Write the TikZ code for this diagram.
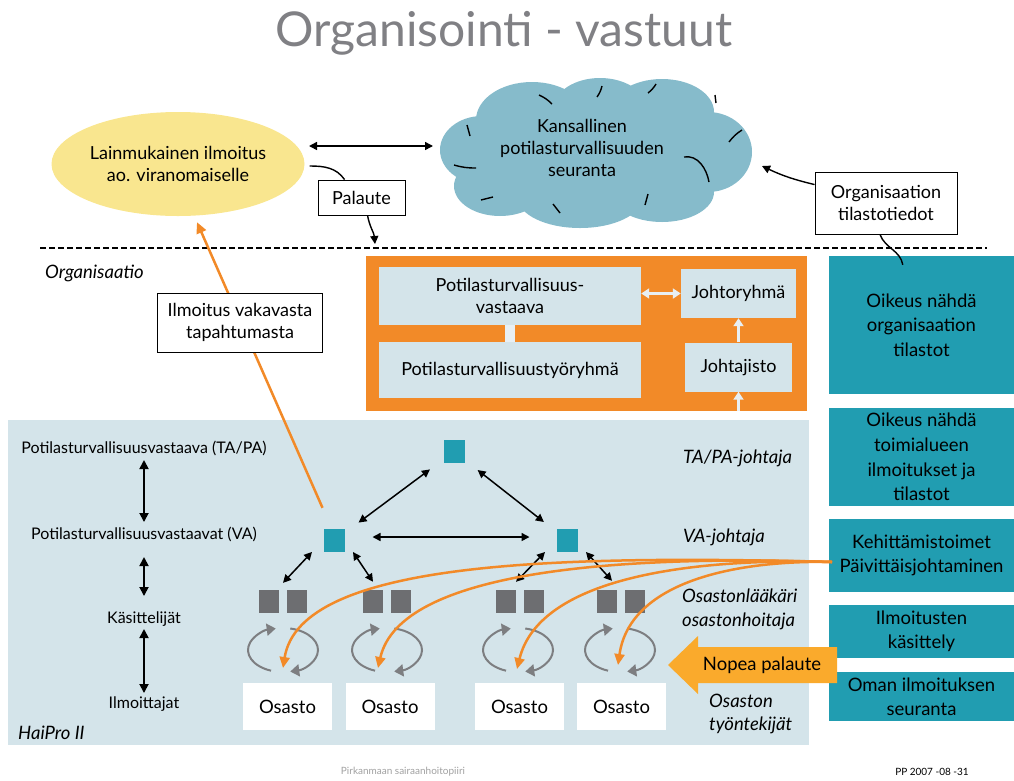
\documentclass[tikz,border=0pt]{standalone}
\usepackage{fontspec}
\setmainfont{Lato}
\usetikzlibrary{arrows.meta,shapes.geometric,calc}
\definecolor{titlegray}{RGB}{128,128,132}
\definecolor{ellY}{RGB}{249,230,143}
\definecolor{cloudB}{RGB}{134,187,203}
\definecolor{orgO}{RGB}{242,138,40}
\definecolor{paleB}{RGB}{212,228,234}
\definecolor{tealT}{RGB}{33,157,177}
\definecolor{sqG}{RGB}{109,110,113}
\definecolor{cycG}{RGB}{125,126,129}
\definecolor{nopeaO}{RGB}{250,170,44}
\definecolor{lightA}{RGB}{232,239,243}
\definecolor{footG}{RGB}{160,160,160}
\begin{document}
\begin{tikzpicture}[x=1pt,y=-1pt,
  txt/.style={font=\fontsize{18}{22}\selectfont, align=center, inner sep=0pt},
  wbox/.style={txt, draw=black, line width=0.9pt, fill=white},
  pbox/.style={txt, fill=paleB},
  tbox/.style={font=\fontsize{18.5}{24.5}\selectfont, align=center, inner sep=0pt, fill=tealT, minimum width=185},
  lbl/.style={font=\fontsize{16}{19}\selectfont, inner sep=0pt},
  itl/.style={font=\fontsize{18.5}{22}\selectfont\itshape, inner sep=0pt, align=left},
  dbl/.style={line width=1.5pt, {Triangle[length=8pt,width=8pt]}-{Triangle[length=8pt,width=8pt]}},
  dblL/.style={line width=1.8pt, {Triangle[length=9pt,width=9pt]}-{Triangle[length=9pt,width=9pt]}},
  tsq/.style={fill=tealT, minimum width=21, minimum height=23, inner sep=0pt},
  gsq/.style={fill=sqG, minimum width=20, minimum height=23, inner sep=0pt},
  cyc/.style={draw=cycG, line width=2pt, -{Triangle[length=9pt,width=12pt]}},
  fb/.style={draw=orgO, line width=2.5pt, -{Triangle[length=11pt,width=10pt]}},
  la/.style={draw=lightA, line width=3pt}
]
\useasboundingbox (0,0) rectangle (1014,780);

% title
\node[font=\fontsize{48}{54}\selectfont, text=titlegray, inner sep=0pt] (title) at (504,33) {Organisointi - vastuut};

% background panels
\fill[paleB] (8,420) rectangle (809,745);
\fill[orgO] (366,256) rectangle (807,411);

% ellipse
\node[ellipse, fill=ellY, minimum width=253, minimum height=104, inner sep=0pt, txt] (ell) at (178,164) {Lainmukainen ilmoitus\\ao. viranomaiselle};

% cloud
\begin{scope}
\fill[cloudB] (482,150) ellipse [x radius=42, y radius=34];
\fill[cloudB] (532,120) ellipse [x radius=56, y radius=38];
\fill[cloudB] (600,108) ellipse [x radius=46, y radius=30];
\fill[cloudB] (662,112) ellipse [x radius=52, y radius=33];
\fill[cloudB] (708,152) ellipse [x radius=44, y radius=40];
\fill[cloudB] (662,192) ellipse [x radius=52, y radius=30];
\fill[cloudB] (580,198) ellipse [x radius=62, y radius=30];
\fill[cloudB] (500,186) ellipse [x radius=46, y radius=30];
\fill[cloudB] (596,152) ellipse [x radius=125, y radius=58];
\end{scope}
\begin{scope}[line width=1.4pt]
\draw (539,95) to[bend left=10] (552,104);
\draw (597,97) to[bend right=10] (602,86);
\draw (648,93) to[bend right=10] (656,84);
\draw (715,95) -- (716,103);
\draw (729,142) to[bend left=10] (742,130);
\draw (684,157) to[out=10, in=100] (709,182);
\draw (648,194) -- (645,205);
\draw (553,204) -- (560,213);
\draw (481,200) -- (493,197);
\draw (454,165) to[bend right=8] (476,168);
\draw (467,125) -- (470,136);
\end{scope}
\node[txt] (cloud) at (582,148) {Kansallinen\\potilasturvallisuuden\\seuranta};
\coordinate (cloudL) at (433,146);
\coordinate (cloudR) at (762,166);
\coordinate (ellR) at (309,146);

\draw[dbl] (ellR) -- (cloudL);

% Palaute
\node[wbox, minimum width=87, minimum height=35] (pal) at (361.5,197.5) {Palaute};
\draw[line width=1.4pt] ($(ell.east)+(5,2)$) to[out=0, in=125] ($(pal.north west)+(27,0)$);
\coordinate (palT) at (375,244);
\draw[line width=1.4pt, -{Triangle[length=8pt,width=8pt]}] ($(pal.south west)+(50,0)$) to[out=-80, in=95] (palT);

% Organisaation tilastotiedot
\node[wbox, minimum width=142, minimum height=62] (ot) at (886,203) {Organisaation\\tilastotiedot};
\draw[line width=1.4pt, -{Triangle[length=8pt,width=8pt]}] ($(ot.north west)+(0,13)$) to[bend left=6] (cloudR);

% dashed line
\coordinate (dashL) at (40,248);
\coordinate (dashR) at (987,248);
\draw[line width=1.3pt, dash pattern=on 6pt off 3pt] (dashL) -- (dashR);
\node[itl, anchor=west] (orgl) at (45,273) {Organisaatio};

% organisation box contents
\node[pbox, minimum width=262, minimum height=58] (pv) at (510,296) {Potilasturvallisuus-\\vastaava};
\node[pbox, minimum width=262, minimum height=56] (pt) at (510,370) {Potilasturvallisuustyöryhmä};
\node[pbox, minimum width=115, minimum height=49] (jr) at (738.5,293.5) {Johtoryhmä};
\node[pbox, minimum width=107, minimum height=49] (js) at (738.5,367) {Johtajisto};
\draw[la, line width=10pt] (pv.south) -- (pt.north);
\draw[la, {Triangle[length=8pt,width=10pt]}-{Triangle[length=8pt,width=10pt]}] (pv.east |- jr.west) -- (jr.west);
\draw[la, -{Triangle[length=8pt,width=10pt]}] (js.north) -- (jr.south);
\coordinate (obot) at (738.5,411);
\draw[la, -{Triangle[length=8pt,width=10pt]}] (obot) -- (js.south);

% right teal column
\node[tbox, minimum height=138] (t1) at (921.5,325) {Oikeus nähdä\\organisaation\\tilastot};
\node[tbox, minimum height=98] (t2) at (921.5,457) {Oikeus nähdä\\toimialueen\\ilmoitukset ja\\tilastot};
\node[tbox, minimum height=73] (t3) at (921.5,555.5) {Kehittämistoimet\\Päivittäisjohtaminen};
\node[tbox, minimum height=53] (t4) at (921.5,631.5) {Ilmoitusten\\käsittely};
\node[tbox, minimum height=49] (t5) at (921.5,696.5) {Oman ilmoituksen\\seuranta};
\draw[line width=1.4pt] ($(ot.south)+(-6,0)$) to[out=-70, in=100] ($(t1.north west)+(74,9)$);

% left column labels
\node[lbl] (l1) at (144,448) {Potilasturvallisuusvastaava (TA/PA)};
\node[lbl] (l2) at (144,534) {Potilasturvallisuusvastaavat (VA)};
\node[lbl] (l3) at (144,619) {Käsittelijät};
\node[lbl] (l4) at (144,704) {Ilmoittajat};
\draw[dblL] ($(l1.center)+(0,12)$) -- ($(l2.center)+(0,-12)$);
\draw[dblL] ($(l2.center)+(0,23)$) -- ($(l3.center)+(0,-23)$);
\draw[dblL] ($(l3.center)+(0,10)$) -- ($(l4.center)+(0,-11)$);
\node[itl, anchor=west] (hp) at (18,733) {HaiPro II};

% right italic labels
\node[itl, anchor=west] (r1) at (683,458) {TA/PA-johtaja};
\node[itl, anchor=west] (r2) at (683,537) {VA-johtaja};
\node[itl, anchor=west, font=\fontsize{18.5}{24}\selectfont\itshape] (r3) at (682,609) {Osastonlääkäri\\osastonhoitaja};
\node[itl, anchor=west, font=\fontsize{18.5}{23}\selectfont\itshape] (r4) at (709,713.5) {Osaston\\työntekijät};

% hierarchy squares
\node[tsq] (top) at (454,451.5) {};
\node[tsq] (vaL) at (334.5,540.5) {};
\node[tsq] (vaR) at (567.5,540.5) {};
\draw[dbl, shorten <=30pt, shorten >=30pt] (vaL.center) -- (top.center);
\draw[dbl, shorten <=30pt, shorten >=30pt] (top.center) -- (vaR.center);
\draw[dbl] ($(vaL.center)+(38,-3.5)$) -- ($(vaR.center)+(-38,-3.5)$);

\foreach \n/\x in {g1/283, g2/386.5, g3/520, g4/621} {
  \node[minimum width=48, minimum height=23, inner sep=0pt] (\n) at (\x,601.5) {};
  \node[gsq, anchor=west] at (\n.west) {};
  \node[gsq, anchor=east] at (\n.east) {};
}
\draw[dbl] ($(g1.north)+(0,-7)$) -- ($(vaL.center)+(-22.5,11.5)$);
\draw[dbl] ($(g2.north)+(-13.5,-8)$) -- ($(vaL.center)+(18.5,11.5)$);
\draw[dbl] ($(g3.north)+(-4,-8)$) -- ($(vaR.center)+(-22.5,11.5)$);
\draw[dbl] ($(g4.north)+(-9,-9)$) -- ($(vaR.center)+(18.5,11.5)$);

% cycles
\foreach \c/\x in {c1/283, c2/387, c3/518, c4/620} {
  \coordinate (\c) at (\x,650);
  \draw[cyc] ($(\c)+(110:35 and 22)$) arc[start angle=110, end angle=258, x radius=35, y radius=22];
  \draw[cyc] ($(\c)+(-78:35 and 22)$) arc[start angle=-78, end angle=78, x radius=35, y radius=22];
}

% Osasto boxes
\node[txt, fill=white, minimum width=89, minimum height=47, font=\fontsize{18.5}{22}\selectfont] (o1) at (287.5,706.5) {Osasto};
\node[txt, fill=white, minimum width=89, minimum height=47, font=\fontsize{18.5}{22}\selectfont] (o2) at (390,706.5) {Osasto};
\node[txt, fill=white, minimum width=89, minimum height=47, font=\fontsize{18.5}{22}\selectfont] (o3) at (519.5,706.5) {Osasto};
\node[txt, fill=white, minimum width=89, minimum height=47, font=\fontsize{18.5}{22}\selectfont] (o4) at (621.5,706.5) {Osasto};

% feedback curves
\coordinate (fbs) at (832,562);
\draw[fb] (fbs) .. controls (560,555) and (300,560) .. ($(c1)+(0,18)$);
\draw[fb] (fbs) .. controls (620,555) and (400,570) .. ($(c2)+(-9,18)$);
\draw[fb] (fbs) .. controls (700,558) and (540,575) .. ($(c3)+(-1,19)$);
\draw[fb] (fbs) .. controls (740,560) and (630,580) .. ($(c4)+(-2,15)$);

% Nopea palaute arrow
\fill[nopeaO] (668,665) -- (698,636) -- (698,647) -- (837,647) -- (837,683) -- (698,683) -- (698,694) -- cycle;
\node[txt, font=\fontsize{18.5}{22}\selectfont] (np) at (762,665) {Nopea palaute};

% serious event report
\draw[orgO, line width=2.5pt, -{Triangle[length=11pt,width=10pt]}] ($(vaL.north)+(-12,-21)$) -- ($(ell.south)+(19,6)$);
\node[wbox, minimum width=165, minimum height=59] (iv) at (240,322.5) {Ilmoitus vakavasta\\tapahtumasta};

% footer
\node[font=\fontsize{10}{12}\selectfont, text=footG, inner sep=0pt] (f1) at (403,772) {Pirkanmaan sairaanhoitopiiri};
\node[font=\fontsize{10}{12}\selectfont, inner sep=0pt] (f2) at (932,772) {PP 2007 -08 -31};
\end{tikzpicture}
\end{document}
